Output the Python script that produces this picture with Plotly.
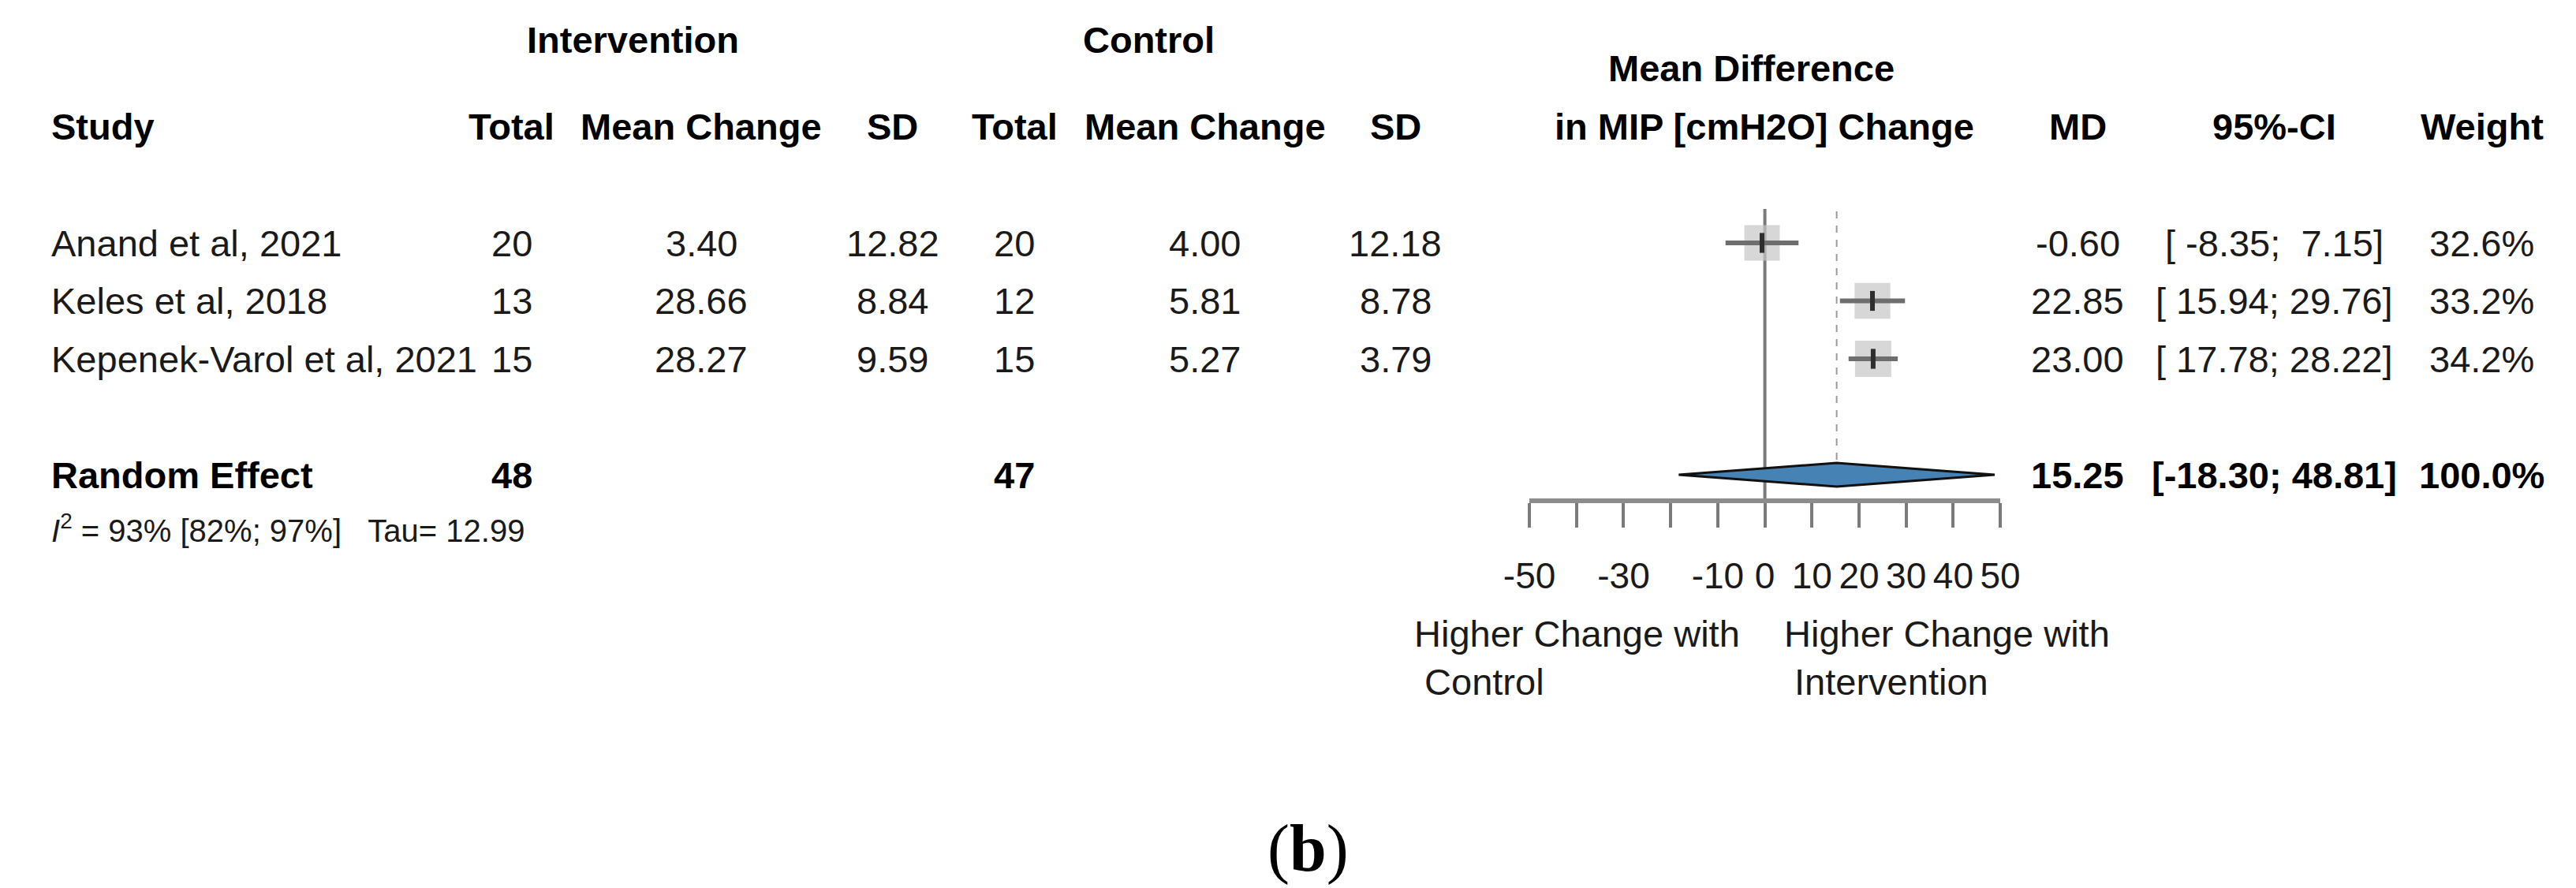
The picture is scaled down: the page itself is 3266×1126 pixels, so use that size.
import plotly.graph_objects as go

# ---------------- data ----------------
studies = ["Anand et al, 2021", "Keles et al, 2018", "Kepenek-Varol et al, 2021"]
int_total = [20, 13, 15]
int_mean = [3.40, 28.66, 28.27]
int_sd = [12.82, 8.84, 9.59]
ctl_total = [20, 12, 15]
ctl_mean = [4.00, 5.81, 5.27]
ctl_sd = [12.18, 8.78, 3.79]
md = [-0.60, 22.85, 23.00]
ci_low = [-8.35, 15.94, 17.78]
ci_high = [7.15, 29.76, 28.22]
weight = [32.6, 33.2, 34.2]

pooled_label = "Random Effect"
pooled_int_total = 48
pooled_ctl_total = 47
pooled_md = 15.25
pooled_low = -18.30
pooled_high = 48.81
pooled_weight = 100.0

i2 = 93
i2_low = 82
i2_high = 97
tau = 12.99

tick_vals = [-50, -30, -10, 0, 10, 20, 30, 40, 50]
tick_text = ["-50", "-30", "-10", "0", "10", "20", "30", "40", "50"]
unlabelled_tick_vals = [-40, -20]

# ---------------- layout helpers ----------------
W, H = 3266, 1126
SANS = "Liberation Sans Narrow, Arial Narrow, Liberation Sans, Arial, sans-serif"
SERIF = "Liberation Serif, Times New Roman, serif"
FS = 47           # main font size
ROW0_PX = 300.0   # pixel y of first study row
ROW_H = 73.5      # pixel height of one row


def row_of(py):
    return (py - ROW0_PX) / ROW_H


rows = list(range(len(studies)))
pooled_row = len(studies) + 1
NB = "\u00a0"

fig = go.Figure()

# squares
sizes = [46 * (w / max(weight)) ** 0.5 for w in weight]
fig.add_trace(go.Scatter(x=md, y=rows, mode="markers",
                         marker=dict(symbol="square", size=sizes, color="#C6C6C6",
                                     line=dict(width=0)),
                         hoverinfo="skip", cliponaxis=False))
# CI lines
ci_x, ci_y = [], []
for lo, hi, r in zip(ci_low, ci_high, rows):
    ci_x += [lo, hi, None]
    ci_y += [r, r, None]
fig.add_trace(go.Scatter(x=ci_x, y=ci_y, mode="lines",
                         line=dict(color="#6E6E6E", width=6),
                         hoverinfo="skip", cliponaxis=False))
# point estimate marks
fig.add_trace(go.Scatter(x=md, y=rows, mode="markers",
                         marker=dict(symbol="line-ns", size=18,
                                     line=dict(width=6, color="#2E2E2E")),
                         hoverinfo="skip", cliponaxis=False))
# pooled diamond
hh = 15 / ROW_H
fig.add_trace(go.Scatter(
    x=[pooled_low, pooled_md, pooled_high, pooled_md, pooled_low],
    y=[pooled_row, pooled_row - hh, pooled_row, pooled_row + hh, pooled_row],
    mode="lines", fill="toself", fillcolor="#4682B4",
    line=dict(color="#111111", width=3), hoverinfo="skip", cliponaxis=False))

axis_py = 627
# reference lines
fig.add_shape(type="line", xref="x", yref="y", x0=0, x1=0,
              y0=row_of(257), y1=row_of(axis_py),
              line=dict(color="#7A7A7A", width=4), layer="below")
fig.add_shape(type="line", xref="x", yref="y", x0=pooled_md, x1=pooled_md,
              y0=row_of(260), y1=pooled_row - hh,
              line=dict(color="#9A9A9A", width=2, dash="dash"), layer="below")


def txt(s, x, r, anchor="center", size=FS, bold=False, family=SANS, color="black"):
    fig.add_annotation(text=f"<b>{s}</b>" if bold else s, x=x / W, y=r,
                       xref="paper", yref="y", xanchor=anchor, yanchor="middle",
                       showarrow=False, font=dict(family=family, size=size, color=color))


# column x centres (pixels)
X_STUDY = 22
X_ITOT, X_IMEAN, X_ISD = 619, 864, 1111
X_CTOT, X_CMEAN, X_CSD = 1268, 1514, 1760
X_MD, X_CI, X_W = 2641, 2895, 3163

hdr1 = row_of(42)
hdr_md = row_of(78)
hdr2 = row_of(152)

txt("Intervention", 776, hdr1, bold=True)
txt("Control", 1442, hdr1, bold=True)
txt("Mean Difference", 2220, hdr_md, bold=True)
txt("Study", X_STUDY, hdr2, anchor="left", bold=True)
txt("Total", X_ITOT, hdr2, bold=True)
txt("Mean Change", X_IMEAN, hdr2, bold=True)
txt("SD", X_ISD, hdr2, bold=True)
txt("Total", X_CTOT, hdr2, bold=True)
txt("Mean Change", X_CMEAN, hdr2, bold=True)
txt("SD", X_CSD, hdr2, bold=True)
txt("in MIP [cmH2O] Change", 2236, hdr2, bold=True)
txt("MD", X_MD, hdr2, bold=True)
txt("95%-CI", X_CI, hdr2, bold=True)
txt("Weight", X_W, hdr2, bold=True)


def ci_str(lo, hi):
    return f"[{lo:6.2f}; {hi:5.2f}]".replace(" ", NB)


for i, r in enumerate(rows):
    txt(studies[i], X_STUDY, r, anchor="left", color="#1A1A1A")
    txt(str(int_total[i]), X_ITOT, r, color="#1A1A1A")
    txt(f"{int_mean[i]:.2f}", X_IMEAN, r, color="#1A1A1A")
    txt(f"{int_sd[i]:.2f}", X_ISD, r, color="#1A1A1A")
    txt(str(ctl_total[i]), X_CTOT, r, color="#1A1A1A")
    txt(f"{ctl_mean[i]:.2f}", X_CMEAN, r, color="#1A1A1A")
    txt(f"{ctl_sd[i]:.2f}", X_CSD, r, color="#1A1A1A")
    txt(f"{md[i]:.2f}", X_MD, r, color="#1A1A1A")
    txt(ci_str(ci_low[i], ci_high[i]), X_CI, r, color="#1A1A1A")
    txt(f"{weight[i]:.1f}%", X_W, r, color="#1A1A1A")

txt(pooled_label, X_STUDY, pooled_row, anchor="left", bold=True)
txt(str(pooled_int_total), X_ITOT, pooled_row, bold=True)
txt(str(pooled_ctl_total), X_CTOT, pooled_row, bold=True)
txt(f"{pooled_md:.2f}", X_MD, pooled_row, bold=True)
txt(ci_str(pooled_low, pooled_high), X_CI, pooled_row, bold=True)
txt(f"{pooled_weight:.1f}%", X_W, pooled_row, bold=True)

het = (f"<i>I</i><sup>2</sup> = {i2}% [{i2_low}%; {i2_high}%]"
       f"{NB*3}Tau= {tau:.2f}")
txt(het, X_STUDY, row_of(662), anchor="left", size=40, color="#1A1A1A")

txt("Higher Change with", 1782, row_of(795), anchor="left", color="#1A1A1A")
txt(NB + "Control", 1782, row_of(856), anchor="left", color="#1A1A1A")
txt("Higher Change with", 2260, row_of(795), anchor="left", color="#1A1A1A")
txt(NB + "Intervention", 2260, row_of(856), anchor="left", color="#1A1A1A")

txt("(<b>b</b>)", 1647, row_of(1068), size=84, family=SERIF)

fig.update_layout(
    width=W, height=H, margin=dict(l=0, r=0, t=0, b=0),
    paper_bgcolor="white", plot_bgcolor="white", showlegend=False,
    xaxis=dict(range=[-50, 50], domain=[1933 / W, 2541 / W], anchor="free",
               position=1 - axis_py / H, showline=True, linecolor="#8C8C8C",
               linewidth=6, ticks="outside", ticklen=31, tickwidth=4,
               tickcolor="#7A7A7A", tickmode="array", tickvals=tick_vals,
               ticktext=tick_text, tickangle=0,
               minor=dict(tickmode="array", tickvals=unlabelled_tick_vals,
                          ticks="outside", ticklen=31, tickwidth=4,
                          tickcolor="#7A7A7A", showgrid=False),
               tickfont=dict(family=SANS, size=46, color="#1A1A1A"),
               ticklabelstandoff=22,
               showgrid=False, zeroline=False, fixedrange=True),
    yaxis=dict(range=[row_of(H), row_of(0)], domain=[0, 1], visible=False,
               fixedrange=True),
)

fig.write_html("out.html")
